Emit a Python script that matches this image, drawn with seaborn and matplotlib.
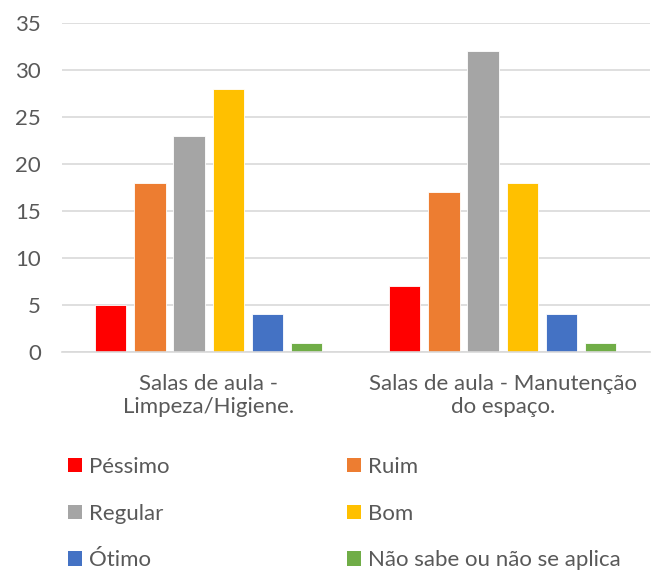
import pandas as pd
import seaborn as sns
import matplotlib.pyplot as plt
from matplotlib.patches import Patch

categories = ["Salas de aula -\nLimpeza/Higiene.", "Salas de aula - Manutenção\ndo espaço."]
series = ["Péssimo", "Ruim", "Regular", "Bom", "Ótimo", "Não sabe ou não se aplica"]
limpeza = [5, 18, 23, 28, 4, 1]
manutencao = [7, 17, 32, 18, 4, 1]
colors = ["#ff0000", "#ed7d31", "#a5a5a5", "#ffc000", "#4472c4", "#70ad47"]

rows = []
for s, a, b in zip(series, limpeza, manutencao):
    rows.append({"cat": categories[0], "serie": s, "valor": a})
    rows.append({"cat": categories[1], "serie": s, "valor": b})
df = pd.DataFrame(rows)

sns.set_style("white")
plt.rcParams["font.family"] = ["Lato", "DejaVu Sans"]
fs = 16
txt = "#595959"

fig = plt.figure(figsize=(6.57, 5.70), dpi=100)
ax = fig.add_axes([0.094, 0.3825, 0.895, 0.577])

sns.barplot(data=df, x="cat", y="valor", hue="serie", hue_order=series,
            order=categories, palette=colors, saturation=1, width=0.8, gap=0.2,
            edgecolor="white", linewidth=0.6, legend=False, ax=ax)

ax.set_ylim(0, 35)
ax.set_yticks(range(0, 36, 5))
ax.set_xlim(-0.5, 1.5)
ax.yaxis.grid(True, color="#d9d9d9", linewidth=1.2)
ax.set_axisbelow(True)
for sp in ["top", "right", "left"]:
    ax.spines[sp].set_visible(False)
ax.spines["bottom"].set_color("#d9d9d9")
ax.spines["bottom"].set_linewidth(1.2)
ax.tick_params(axis="both", length=0, labelsize=fs, labelcolor=txt)
ax.tick_params(axis="y", pad=15)
ax.tick_params(axis="x", pad=16)
ax.set_xlabel("")
ax.set_ylabel("")
for t in ax.get_xticklabels():
    t.set_linespacing(1.2)

# legend in two columns, filled row by row
legend_cols = [[0, 2, 4], [1, 3, 5]]
xs = [68 / 657, 347 / 657]
for idx, x0 in zip(legend_cols, xs):
    handles = [Patch(facecolor=colors[i], edgecolor="none") for i in idx]
    labels = [series[i] for i in idx]
    leg = fig.legend(handles, labels, loc="upper left", bbox_to_anchor=(x0, 1 - 457 / 570),
                     frameon=False, fontsize=fs, labelcolor=txt,
                     handlelength=0.63, handleheight=0.63, handletextpad=0.3,
                     labelspacing=1.2, borderpad=0, borderaxespad=0)

fig.savefig("out.png", dpi=100)
